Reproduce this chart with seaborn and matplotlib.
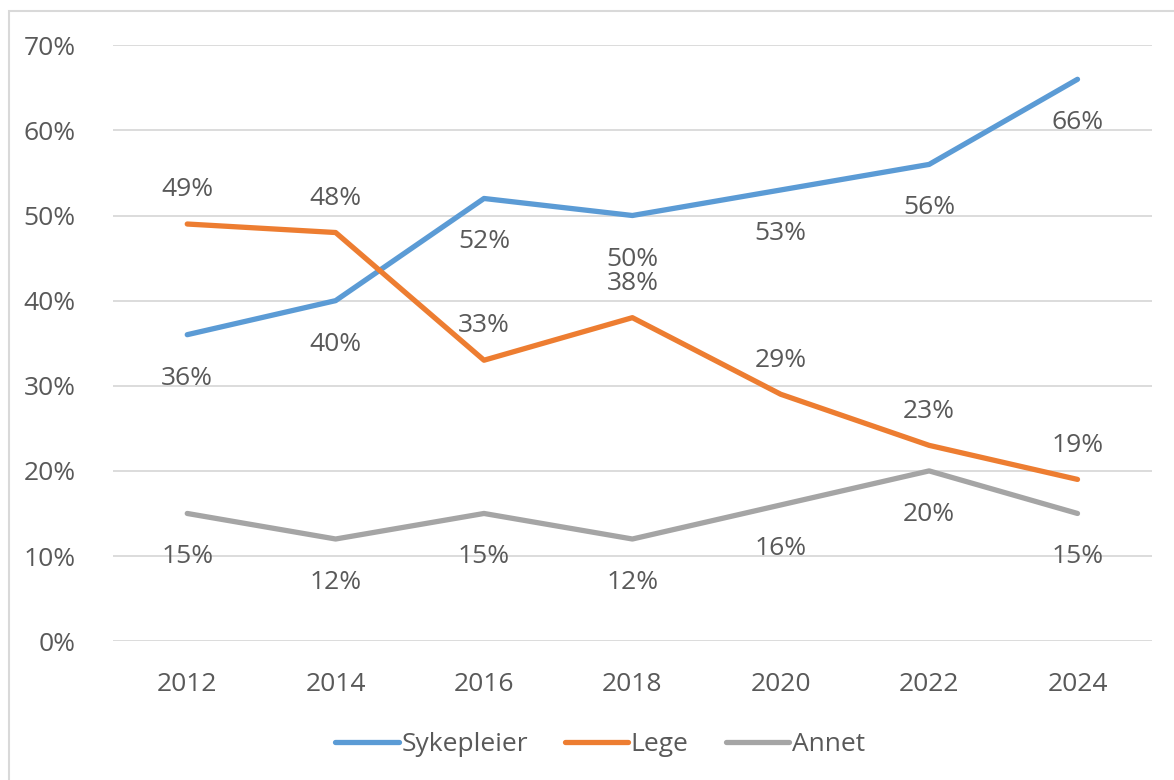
import matplotlib

matplotlib.use("Agg")
import matplotlib.pyplot as plt
import seaborn as sns
import pandas as pd
from matplotlib.patches import Rectangle
from matplotlib.ticker import FuncFormatter

# ── Data ─────────────────────────────────────────────
years = ["2012", "2014", "2016", "2018", "2020", "2022", "2024"]
sykepleier = [36, 40, 52, 50, 53, 56, 66]
lege = [49, 48, 33, 38, 29, 23, 19]
annet = [15, 12, 15, 12, 16, 20, 15]

series_names = ["Sykepleier", "Lege", "Annet"]
colors = ["#5B9BD5", "#ED7D31", "#A5A5A5"]
label_side = [-1, 1, -1]  # below, above, below

df = pd.DataFrame({"year": years, "Sykepleier": sykepleier, "Lege": lege, "Annet": annet})
long = df.melt(id_vars="year", var_name="series", value_name="pct")

sns.set_style("white")
plt.rcParams["font.family"] = ["Open Sans", "DejaVu Sans"]
text_color = "#595959"

fig = plt.figure(figsize=(11.74, 7.80), dpi=100)
ax = fig.add_axes([0.0963, 0.178, 0.8847, 0.764])

sns.lineplot(data=long, x="year", y="pct", hue="series", hue_order=series_names,
             palette=colors, linewidth=3.8, ax=ax, legend=False, sort=False)
for line in ax.lines:
    line.set_solid_capstyle("round")
    line.set_solid_joinstyle("round")

# data labels (baseline-anchored so the digits sit where Excel puts them)
for name, side in zip(series_names, label_side):
    dy = 20 if side > 0 else -36
    for i, v in enumerate(df[name]):
        ax.annotate(f"{v}%", (i, v), xytext=(0, dy), textcoords="offset points",
                    ha="center", va="baseline", fontsize=19, color=text_color)

ax.set_xlim(-0.5, len(years) - 0.5)
ax.set_ylim(0, 70)
ax.set_yticks(range(0, 71, 10))
ax.yaxis.set_major_formatter(FuncFormatter(lambda v, _: f"{v:.0f}%"))
ax.grid(axis="y", color="#D9D9D9", linewidth=1.3)
ax.set_axisbelow(True)
for s in ax.spines.values():
    s.set_visible(False)
ax.tick_params(axis="both", length=0, labelsize=19, labelcolor=text_color)
ax.tick_params(axis="y", pad=27)
ax.tick_params(axis="x", pad=22)
ax.set_xlabel("")
ax.set_ylabel("")

# legend
handles = [plt.Line2D([], [], color=c, linewidth=3.8, solid_capstyle="round") for c in colors]
fig.legend(handles, series_names, loc="center", bbox_to_anchor=(0.511, 0.045), ncol=3,
           frameon=False, fontsize=19, labelcolor=text_color, handlelength=2.4,
           handletextpad=0.1, columnspacing=1.4)

# chart border
fig.patches.append(Rectangle((9 / 1174, -0.1), 1.2, 1.1 - 11 / 780, transform=fig.transFigure,
                             fill=False, edgecolor="#D9D9D9", linewidth=1.5))

plt.savefig("out.png", dpi=100)
